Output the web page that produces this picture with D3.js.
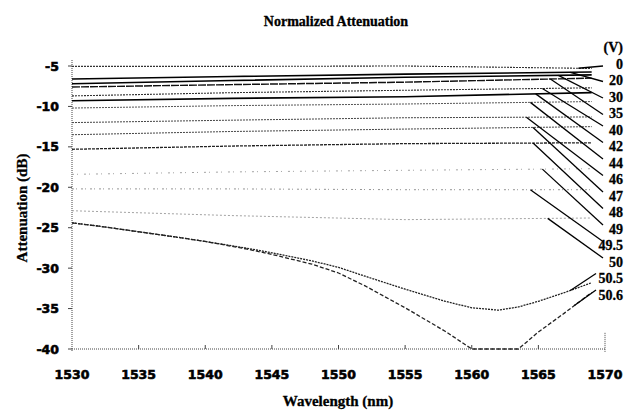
<!DOCTYPE html>
<html lang="en">
<head>
    <meta charset="UTF-8">
    <title>Normalized Attenuation</title>
    <script src="https://cdnjs.cloudflare.com/ajax/libs/d3/7.8.5/d3.min.js"></script>
    <style>
        body { margin: 0; background: #fff; }
        svg { display: block; }
    </style>
</head>
<body>
    <svg width="625" height="410"></svg>
    <script>
        "use strict";

        // flat spectra, read at a few wavelengths
        const flatWl = [1530, 1542, 1555, 1569];
        const voltages = ["0", "20", "30", "35", "40", "42", "44", "46", "47", "48", "49", "49.5", "50", "50.5", "50.6"];
        const flatVals = [
            [-5.05, -5.05, -5.0, -5.3],
            [-6.6, -6.3, -6.0, -5.75],
            [-7.2, -6.8, -6.4, -6.1],
            [-7.6, -7.3, -7.0, -6.5],
            [-8.7, -8.3, -8.0, -7.7],
            [-9.3, -9.0, -8.8, -8.3],
            [-10.2, -9.9, -9.7, -9.4],
            [-12.0, -11.7, -11.4, -11.3],
            [-13.5, -13.1, -12.8, -12.5],
            [-15.3, -14.9, -14.6, -14.5],
            [-18.4, -18.1, -17.9, -17.7],
            [-20.2, -20.2, -20.3, -20.3],
            [-22.9, -23.5, -24.0, -23.8],
        ];

        // 50.5 V and 50.6 V spectra
        const curveWl = [1530, 1532, 1535, 1538, 1540, 1543, 1545, 1548, 1550, 1552, 1555, 1558, 1560, 1562, 1563.5, 1565, 1567, 1569];
        const v505 = [-24.4, -24.8, -25.5, -26.2, -26.7, -27.5, -28.1, -29.1, -29.9, -31.0, -32.6, -34.1, -34.9, -35.2, -34.8, -34.1, -33.0, -31.8];
        const v506 = [-24.4, -24.8, -25.5, -26.2, -26.7, -27.6, -28.3, -29.5, -30.6, -32.2, -34.9, -37.8, -40, -40, -40, -37.9, -35.5, -33.0];

        // where each leader line leaves its spectrum
        const leaderWl = [1568.0, 1567.4, 1566.5, 1565.9, 1565.3, 1564.8, 1564.4, 1564.1, 1564.6, 1564.6, 1565.3, 1564.4, 1565.7, 1567.4, 1567.7];

        const xTicks = [1530, 1535, 1540, 1545, 1550, 1555, 1560, 1565, 1570];
        const yTicks = [-5, -10, -15, -20, -25, -30, -35, -40];

        const svg = d3.select("svg");
        const x = d3.scaleLinear().domain([1530, 1570]).range([72, 605]);
        const y = d3.scaleLinear().domain([-40, -5]).range([349, 66]);
        const labelY = d3.scalePoint().domain(voltages).range([64, 295]);

        const serif = "'Liberation Serif', 'Times New Roman', serif";
        const sans = "'DejaVu Sans', Arial, sans-serif";

        // build series
        const series = flatVals.map((vals, i) => ({
            v: voltages[i],
            pts: flatWl.map((w, j) => [w, vals[j]])
        }));
        series.push({ v: "50.5", pts: curveWl.map((w, j) => [w, v505[j]]) });
        series.push({ v: "50.6", pts: curveWl.map((w, j) => [w, v506[j]]) });

        // line looks per voltage
        const style = {
            "0":    { c: "#333", w: 1.1, d: "2,1" },
            "20":   { c: "#000", w: 1.6, d: null },
            "30":   { c: "#000", w: 1.6, d: null },
            "35":   { c: "#111", w: 1.4, d: "8,1" },
            "40":   { c: "#333", w: 1.1, d: "2,1" },
            "42":   { c: "#000", w: 1.7, d: null },
            "44":   { c: "#555", w: 1.0, d: "2,1" },
            "46":   { c: "#444", w: 1.0, d: "2,1" },
            "47":   { c: "#444", w: 1.0, d: "2,1" },
            "48":   { c: "#222", w: 1.3, d: "3,1" },
            "49":   { c: "#999", w: 0.9, d: "2,3,1,6" },
            "49.5": { c: "#888", w: 0.9, d: "2,2,1,4" },
            "50":   { c: "#999", w: 0.9, d: "2,2" },
            "50.5": { c: "#222", w: 1.3, d: "2,1" },
            "50.6": { c: "#222", w: 1.3, d: "4,2" },
        };

        // axes
        const axisC = "#444";
        svg.append("line")
            .attr("x1", x(1530)).attr("x2", x(1530))
            .attr("y1", y(-5) - 6).attr("y2", y(-40) + 3)
            .attr("stroke", axisC).attr("stroke-width", 1).attr("stroke-dasharray", "1,1");
        svg.append("line")
            .attr("x1", x(1530)).attr("x2", x(1570))
            .attr("y1", y(-40)).attr("y2", y(-40))
            .attr("stroke", axisC).attr("stroke-width", 1).attr("stroke-dasharray", "1,1");
        svg.append("line")
            .attr("x1", x(1570)).attr("x2", x(1570))
            .attr("y1", y(-38)).attr("y2", y(-40) + 3)
            .attr("stroke", axisC).attr("stroke-width", 1).attr("stroke-dasharray", "1,1");

        svg.selectAll(".ytick").data(yTicks).enter().append("line")
            .attr("x1", x(1530) - 4).attr("x2", x(1530))
            .attr("y1", d => y(d)).attr("y2", d => y(d))
            .attr("stroke", axisC);
        svg.selectAll(".xtick").data(xTicks.slice(1, -1)).enter().append("line")
            .attr("x1", d => x(d)).attr("x2", d => x(d))
            .attr("y1", y(-40) - 4).attr("y2", y(-40))
            .attr("stroke", axisC);

        // heavy tick numbers
        svg.selectAll(".ylab").data(yTicks).enter().append("text")
            .attr("x", 59).attr("y", d => y(d)).attr("dy", "0.36em")
            .attr("text-anchor", "end")
            .style("font-family", sans).style("font-weight", "bold").style("font-size", "12.5px")
            .attr("stroke", "#000").attr("stroke-width", 0.6)
            .text(d => String(d).replace("\u2212", "-"));
        svg.selectAll(".xlab").data(xTicks).enter().append("text")
            .attr("x", d => x(d)).attr("y", 374).attr("dy", "0.36em")
            .attr("text-anchor", "middle")
            .style("font-family", sans).style("font-weight", "bold").style("font-size", "12.5px")
            .attr("stroke", "#000").attr("stroke-width", 0.6)
            .text(d => d);

        // spectra
        const line = d3.line().x(d => x(d[0])).y(d => y(d[1]));
        svg.append("g").selectAll("path").data(series).enter().append("path")
            .attr("d", d => line(d.pts))
            .attr("fill", "none")
            .attr("stroke", d => style[d.v].c)
            .attr("stroke-width", d => style[d.v].w)
            .attr("stroke-dasharray", d => style[d.v].d);

        // leader lines to the voltage labels
        function valueAt(pts, w) {
            for (let i = 1; i < pts.length; i++) {
                if (w <= pts[i][0]) {
                    const t = (w - pts[i-1][0]) / (pts[i][0] - pts[i-1][0]);
                    return pts[i-1][1] + t * (pts[i][1] - pts[i-1][1]);
                }
            }
            return pts[pts.length - 1][1];
        }
        svg.append("g").selectAll("line").data(series).enter().append("line")
            .attr("x1", (d, i) => x(leaderWl[i]))
            .attr("y1", (d, i) => y(valueAt(d.pts, leaderWl[i])))
            .attr("x2", (d, i) => i >= 13 ? 596 : 603)
            .attr("y2", (d, i) => labelY(d.v) + (i === 0 ? 2 : i < 4 ? 1 : i >= 13 ? -5 : -4))
            .attr("stroke", "#000").attr("stroke-width", 1.3);

        svg.selectAll(".vlab").data(voltages).enter().append("text")
            .attr("x", 623).attr("y", d => labelY(d)).attr("dy", "0.35em")
            .attr("text-anchor", "end")
            .style("font-family", serif).style("font-weight", "bold").style("font-size", "14px")
            .attr("stroke", "#000").attr("stroke-width", 0.3)
            .text(d => d);
        svg.append("text")
            .attr("x", 623).attr("y", 47).attr("dy", "0.35em")
            .attr("text-anchor", "end")
            .style("font-family", serif).style("font-weight", "bold").style("font-size", "14px")
            .attr("stroke", "#000").attr("stroke-width", 0.3)
            .text("(V)");

        // titles
        svg.append("text")
            .attr("x", 336).attr("y", 21).attr("dy", "0.35em")
            .attr("text-anchor", "middle")
            .style("font-family", serif).style("font-weight", "bold").style("font-size", "14px")
            .attr("stroke", "#000").attr("stroke-width", 0.3)
            .text("Normalized Attenuation");
        svg.append("text")
            .attr("x", 338).attr("y", 401).attr("dy", "0.35em")
            .attr("text-anchor", "middle")
            .style("font-family", serif).style("font-weight", "bold").style("font-size", "15px")
            .attr("stroke", "#000").attr("stroke-width", 0.3)
            .text("Wavelength (nm)");
        svg.append("text")
            .attr("transform", "translate(22,208) rotate(-90)")
            .attr("dy", "0.35em")
            .attr("text-anchor", "middle")
            .style("font-family", serif).style("font-weight", "bold").style("font-size", "15px")
            .attr("stroke", "#000").attr("stroke-width", 0.3)
            .text("Attenuation (dB)");
    </script>
</body>
</html>
